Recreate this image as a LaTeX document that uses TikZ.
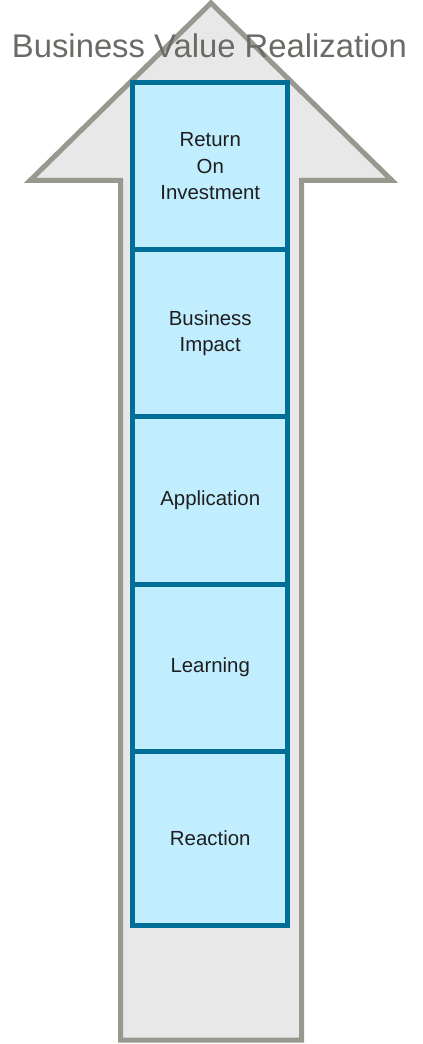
\documentclass[tikz,border=0pt]{standalone}
\usepackage{fontspec}
\setmainfont{Liberation Sans}
\usetikzlibrary{positioning}
\definecolor{shaftgray}{HTML}{E8E8E8}
\definecolor{edgegray}{HTML}{98988F}
\definecolor{titlegray}{HTML}{6A6A66}
\definecolor{levelfill}{HTML}{C1EEFF}
\definecolor{leveledge}{HTML}{006E96}
\definecolor{labelblack}{HTML}{1E1E1E}
\begin{document}
\begin{tikzpicture}[x=0.75pt, y=-0.75pt]
        \tikzstyle{arrowbody}=[fill=shaftgray, draw=edgegray, line width=3.75pt, line join=miter]
        \tikzstyle{level}=[rectangle, draw=leveledge, fill=levelfill, line width=3.75pt, inner sep=0pt, outer sep=0pt,
            minimum width=115.9pt, minimum height=125.4pt, align=center, text=labelblack,
            font=\fontsize{15.3}{19.7}\selectfont]
        \tikzstyle{heading}=[text=titlegray, inner sep=0pt, font=\fontsize{24.6}{28}\selectfont]
        \useasboundingbox (0,0) rectangle (423,1044);
        % big arrow behind the levels
        \draw[arrowbody] (211,3) -- (392,180.5) -- (301.5,180.5) -- (301.5,1040)
            -- (120.5,1040) -- (120.5,180.5) -- (30,180.5) -- cycle;
        \node[heading, anchor=base] (title) at (209.5,58) {Business Value Realization};
        % levels, top to bottom
        \node[level, anchor=north] (roi) at (210.25,82.5) {Return\\On\\Investment};
        \node[level, below=0pt of roi] (impact) {Business\\Impact};
        \node[level, below=0pt of impact] (application) {Application};
        \node[level, below=0pt of application] (learning) {Learning};
        \node[level, minimum height=130.9pt, below=0pt of learning] (reaction) {Reaction};
      \end{tikzpicture}
\end{document}
